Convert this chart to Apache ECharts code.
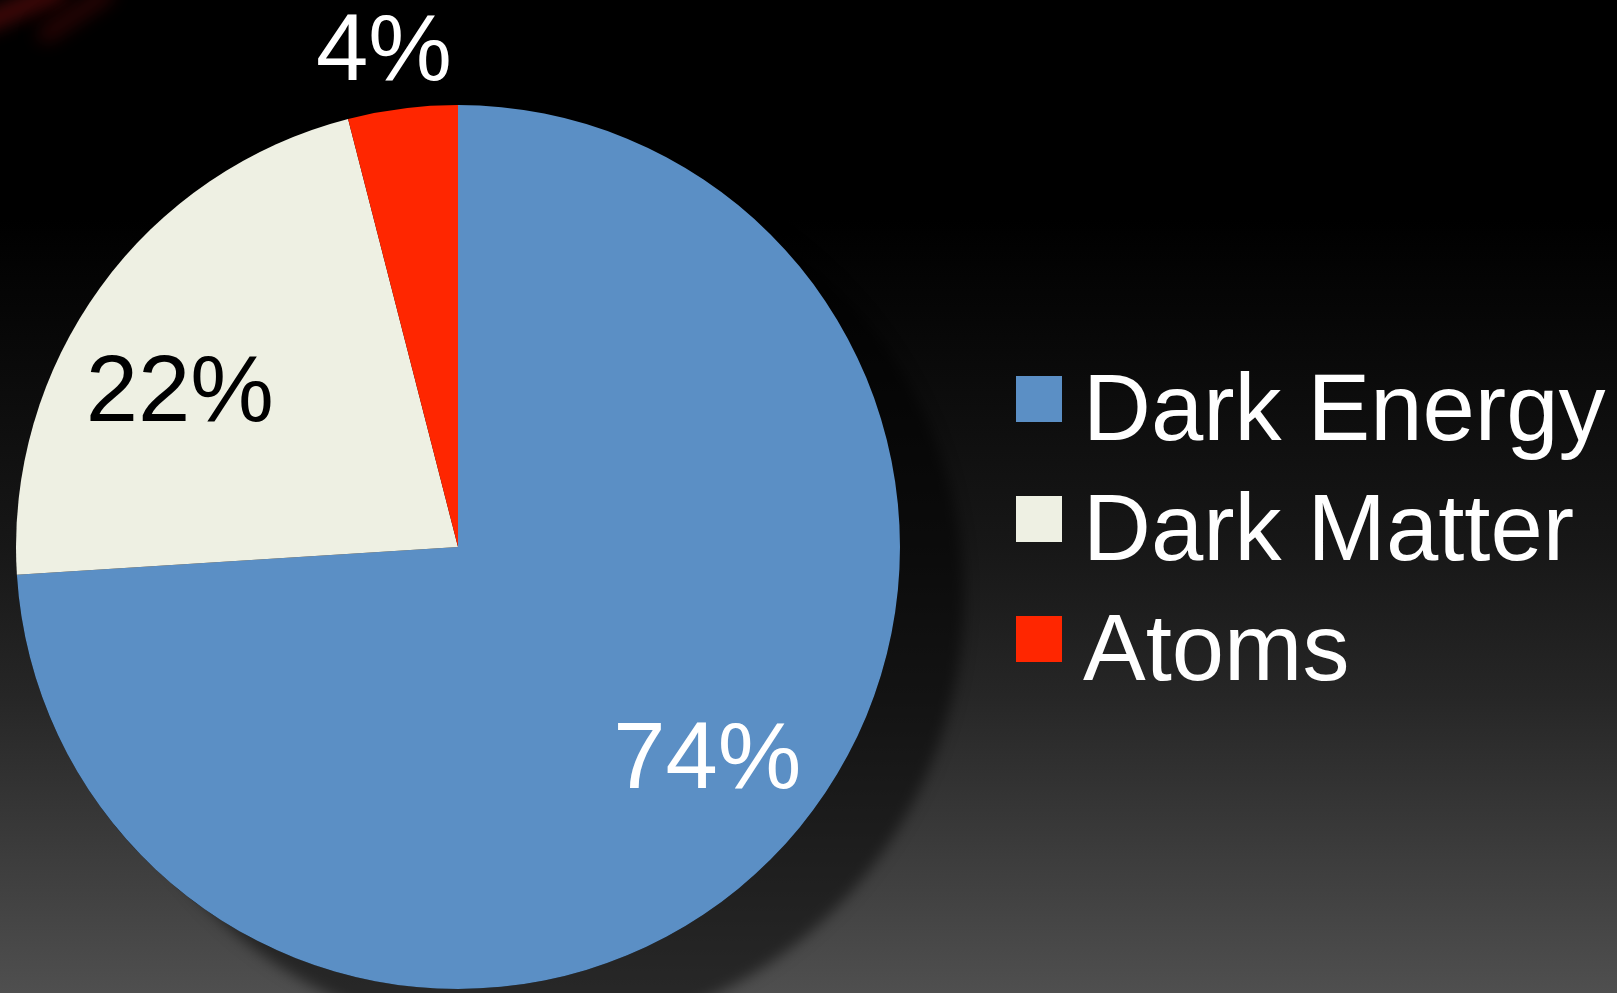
<!DOCTYPE html>
<html>
<head>
<meta charset="utf-8">
<title>Composition of the Universe</title>
<script src="https://cdn.jsdelivr.net/npm/echarts@6/dist/echarts.min.js"></script>
<style>
  html, body { margin: 0; padding: 0; width: 100%; height: 100%; overflow: hidden; }
  #chart {
    width: 1617px; height: 993px;
    background: linear-gradient(to bottom,
      #000000 0%, #000000 22%, #080808 34%, #171717 55%,
      #262626 70%, #3c3c3c 86%, #4f4f4f 100%);
  }
</style>
</head>
<body>
<div id="chart"></div>
<script>
// Share of the universe's energy content
const categories = ['Dark Energy', 'Dark Matter', 'Atoms'];
const shares = [74, 22, 4];
const sliceColors = ['#5b8fc5', '#eef0e3', '#ff2600'];
const labelColors = ['#ffffff', '#000000', '#ffffff'];
// label offsets from the default inside anchor of each slice
const labelNudge = [[86, 62], [-97, -20], [-46, -271]];

const FONT = '"Liberation Sans", Arial, Helvetica, sans-serif';
const CX = 458, CY = 547, R = 442;

const chart = echarts.init(document.getElementById('chart'), null, { renderer: 'canvas' });

// soft red streaks in the top-left corner, drawn as blurred shadows of off-canvas lines
const SHIFT = 3000;
function streak(x1, y1, x2, y2, w, color, blur) {
  return {
    type: 'line',
    silent: true,
    z: 0,
    shape: { x1: x1 - SHIFT, y1: y1, x2: x2 - SHIFT, y2: y2 },
    style: {
      stroke: '#000', lineWidth: w, lineCap: 'round',
      shadowColor: color, shadowBlur: blur, shadowOffsetX: SHIFT, shadowOffsetY: 0
    }
  };
}

chart.setOption({
  backgroundColor: 'transparent',
  animation: false,
  graphic: [
    streak(-14, 22, 58, -8, 18, 'rgba(105,14,14,0.7)', 18),
    streak(46, 34, 106, -6, 16, 'rgba(80,10,10,0.55)', 18)
  ],
  legend: {
    orient: 'vertical',
    left: 1016,
    top: 337,
    padding: 0,
    itemWidth: 46,
    itemHeight: 46,
    itemGap: -4,
    icon: 'rect',
    data: categories,
    formatter: '{t|{name}}',
    textStyle: {
      color: '#ffffff',
      fontFamily: FONT,
      fontSize: 94,
      rich: {
        t: {
          color: '#ffffff',
          fontFamily: FONT,
          fontSize: 94,
          lineHeight: 74,
          padding: [30, 0, 0, 16]
        }
      }
    }
  },
  series: [
    {
      // drop shadow under the pie
      type: 'pie',
      silent: true,
      center: [CX, CY],
      radius: R,
      z: 1,
      label: { show: false },
      labelLine: { show: false },
      data: [{ value: 1, name: '' }],
      itemStyle: {
        color: '#000',
        shadowColor: 'rgba(0,0,0,0.5)',
        shadowBlur: 14,
        shadowOffsetX: 64,
        shadowOffsetY: 50
      }
    },
    {
      type: 'pie',
      center: [CX, CY],
      radius: R,
      startAngle: 90,
      clockwise: true,
      z: 2,
      avoidLabelOverlap: false,
      itemStyle: { borderWidth: 0 },
      emphasis: { disabled: true },
      labelLine: { show: false },
      label: {
        show: true,
        position: 'inside',
        formatter: '{c}%',
        fontFamily: FONT,
        fontSize: 94,
        align: 'center',
        verticalAlign: 'middle'
      },
      labelLayout: function (params) {
        const n = labelNudge[params.dataIndex];
        return { dx: n[0], dy: n[1] };
      },
      data: categories.map((name, i) => ({
        name: name,
        value: shares[i],
        itemStyle: { color: sliceColors[i] },
        label: { color: labelColors[i] }
      }))
    }
  ]
});
</script>
</body>
</html>
